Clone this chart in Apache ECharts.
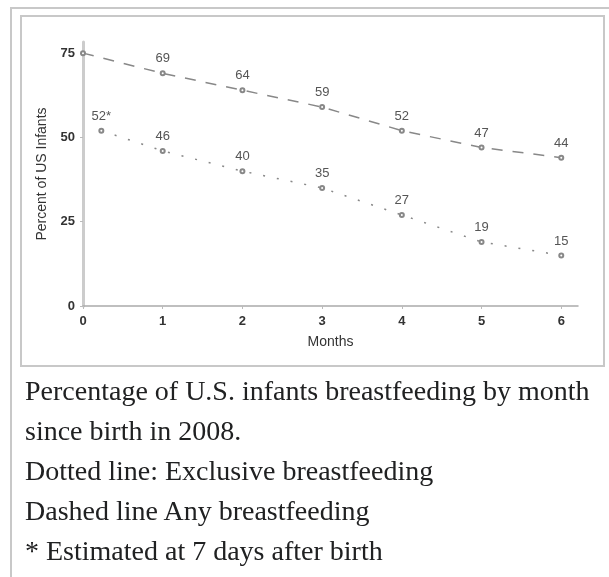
<!DOCTYPE html>
<html>
<head>
  <meta charset="utf-8">
  <title>US infants breastfeeding 2008</title>
  <script src="https://cdn.jsdelivr.net/npm/echarts@6/dist/echarts.min.js"></script>
  <style>
    body { margin: 0; background: #fff; width: 609px; height: 577px; overflow: hidden; position: relative; }
    .outer { position: absolute; left: 10px; top: 7px; width: 620px; height: 600px;
      border-top: 2px solid #c8c8c8; border-left: 2px solid #c8c8c8; }
    .inner { position: absolute; left: 20px; top: 15px; width: 581px; height: 348px;
      border: 2px solid #c8c8c8; }
    #main { position: absolute; left: 0; top: 0; width: 609px; height: 577px; }
    .caption { position: absolute; left: 25px; top: 371px; font-family: "Liberation Serif", serif;
      font-size: 28px; line-height: 40px; color: #202122; white-space: nowrap; }
  </style>
</head>
<body>
  <div class="outer"></div>
  <div class="inner"></div>
  <div id="main"></div>
  <div class="caption">
    Percentage of U.S. infants breastfeeding by month<br>
    since birth in 2008.<br>
    Dotted line: Exclusive breastfeeding<br>
    Dashed line Any breastfeeding<br>
    * Estimated at 7 days after birth
  </div>

  <script type="text/javascript">
    // months since birth / percent of infants
    var anyMonths = [0, 1, 2, 3, 4, 5, 6];
    var anyPct = [75, 69, 64, 59, 52, 47, 44];
    var anyLabels = ['', '69', '64', '59', '52', '47', '44'];

    var exclMonths = [0.23, 1, 2, 3, 4, 5, 6];
    var exclPct = [52, 46, 40, 35, 27, 19, 15];
    var exclLabels = ['52*', '46', '40', '35', '27', '19', '15'];

    var xTicks = [0, 1, 2, 3, 4, 5, 6];
    var yTicks = [0, 25, 50, 75];

    function pairs(xs, ys) {
      return xs.map(function (x, i) { return [x, ys[i]]; });
    }

    var myChart = echarts.init(document.getElementById('main'));

    var labelStyle = {
      show: true,
      position: 'top',
      distance: 5,
      fontFamily: 'Liberation Sans',
      fontSize: 13,
      color: '#555'
    };

    var option = {
      animation: false,
      grid: { left: 83, right: 31, top: 42, bottom: 271 },
      xAxis: {
        type: 'value',
        min: 0,
        max: 6.21,
        name: 'Months',
        nameLocation: 'middle',
        nameGap: 29,
        nameTextStyle: { fontFamily: 'Liberation Sans', fontSize: 14, color: '#333' },
        axisLine: { lineStyle: { color: '#aaa', width: 1.5 } },
        axisTick: { show: true, length: 3, lineStyle: { color: '#bbb' }, customValues: xTicks },
        axisLabel: { customValues: xTicks, margin: 9, fontFamily: 'Liberation Sans', fontSize: 13, fontWeight: 'bold', color: '#333' },
        splitLine: { show: false }
      },
      yAxis: {
        type: 'value',
        min: 0,
        max: 78.3,
        name: 'Percent of US Infants',
        nameLocation: 'middle',
        nameGap: 28,
        nameTextStyle: { fontFamily: 'Liberation Sans', fontSize: 14, color: '#333' },
        axisLine: { show: true, lineStyle: { color: '#ccc', width: 3 } },
        axisTick: { show: true, length: 3, lineStyle: { color: '#bbb' }, customValues: yTicks },
        axisLabel: { customValues: yTicks, margin: 8, fontFamily: 'Liberation Sans', fontSize: 13, fontWeight: 'bold', color: '#333' },
        splitLine: { show: false }
      },
      series: [
        {
          name: 'Any breastfeeding',
          type: 'line',
          data: pairs(anyMonths, anyPct),
          symbol: 'emptyCircle',
          symbolSize: 4,
          showSymbol: true,
          lineStyle: { color: '#888', width: 1.5, type: [11, 10] },
          itemStyle: { color: '#888', borderWidth: 1 },
          label: Object.assign({}, labelStyle, {
            formatter: function (p) { return anyLabels[p.dataIndex]; }
          })
        },
        {
          name: 'Exclusive breastfeeding',
          type: 'line',
          data: pairs(exclMonths, exclPct),
          symbol: 'emptyCircle',
          symbolSize: 4,
          showSymbol: true,
          lineStyle: { color: '#888', width: 1.5, type: [2, 12] },
          itemStyle: { color: '#888', borderWidth: 1 },
          label: Object.assign({}, labelStyle, {
            formatter: function (p) { return exclLabels[p.dataIndex]; }
          })
        }
      ]
    };
    myChart.setOption(option);
  </script>
</body>
</html>
